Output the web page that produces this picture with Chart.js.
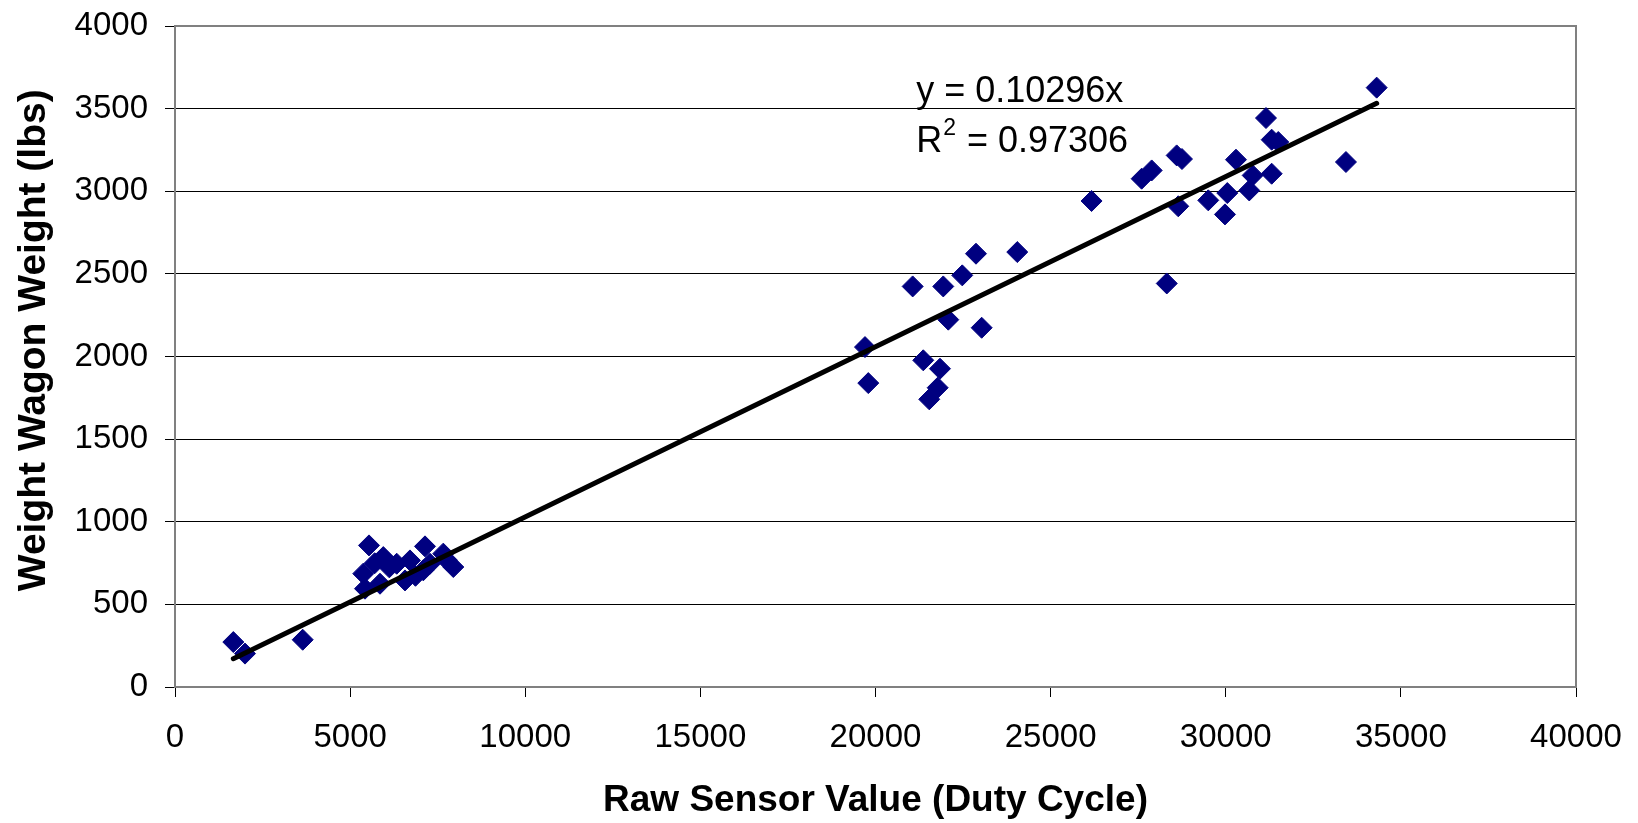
<!DOCTYPE html>
<html>
<head>
<meta charset="utf-8">
<script src="https://cdn.jsdelivr.net/npm/chart.js@4.4.0/dist/chart.umd.min.js"></script>
<style>
  html, body { margin: 0; padding: 0; background: #fff; }
  #wrap { width: 1638px; height: 823px; position: relative; }
</style>
</head>
<body>
<div id="wrap"><canvas id="myChart"></canvas></div>
<script>
// raw sensor reading (duty cycle) vs weighed wagon weight (lbs)
let sensorValues = [
  1665, 1999, 3646,
  5539, 7138, 7660, 7946, 5947, 5376, 5425, 6330, 6709, 6567, 7089, 7280, 5853,
  5701, 6119, 6866, 7761,
  21061, 21935, 22477, 22869, 24048, 19700, 22078, 23031, 21364, 21841, 19794, 21775, 21535,
  26169, 27599, 27885, 28599, 28750, 28644, 28316, 29501, 29978, 30044, 30292, 30671, 30769,
  31149, 31311, 31499, 31311, 33432, 34309
]
let wagonWeights = [
  272, 202, 286,
  857, 851, 807, 726, 786, 686, 595, 746, 766, 645, 706, 746, 625,
  749, 724, 673, 768,
  2424, 2424, 2491, 2622, 2632, 2057, 2223, 2174, 1977, 1926, 1839, 1811, 1741,
  2941, 3076, 3126, 3217, 3195, 2909, 2442, 2945, 2860, 2989, 3191, 3005, 3096,
  3443, 3312, 3298, 3106, 3177, 3627
]
// trendline end points (y = 0.10296x)
let trendX = [1665, 34309]
let trendY = [171, 3532]
let xTicks = { min: 0, max: 40000, step: 5000 }
let yTicks = { min: 0, max: 4000, step: 500 }
let eqText = ['y = 0.10296x', '0.97306']
let eqPos = { x: 21160, y1: 3600, y2: 3300 }

const fontName = "'Liberation Sans', Arial, sans-serif"

let points = sensorValues.map((v, i) => ({ x: v, y: wagonWeights[i] }))
let trend = trendX.map((v, i) => ({ x: v, y: trendY[i] }))

const plotFrame = {
  id: 'plotFrame',
  beforeDatasetsDraw(chart) {
    const { ctx, chartArea } = chart
    ctx.save()
    ctx.strokeStyle = '#808080'
    ctx.lineWidth = 2
    ctx.strokeRect(chartArea.left, chartArea.top, chartArea.right - chartArea.left, chartArea.bottom - chartArea.top)
    ctx.restore()
  }
}

const equation = {
  id: 'equation',
  afterDatasetsDraw(chart) {
    const { ctx, scales } = chart
    let x = scales.x.getPixelForValue(eqPos.x)
    let y1 = scales.y.getPixelForValue(eqPos.y1)
    let y2 = scales.y.getPixelForValue(eqPos.y2)
    ctx.save()
    ctx.fillStyle = '#000'
    ctx.textBaseline = 'middle'
    ctx.textAlign = 'left'
    ctx.font = '36px ' + fontName
    ctx.fillText(eqText[0], x, y1)
    ctx.fillText('R', x, y2)
    let rw = ctx.measureText('R').width
    ctx.font = '23px ' + fontName
    ctx.fillText('2', x + rw + 1, y2 - 13)
    let sw = ctx.measureText('2').width
    ctx.font = '36px ' + fontName
    ctx.fillText(' = ' + eqText[1], x + rw + sw + 2, y2)
    ctx.restore()
  }
}

let graphObject = new Chart(document.querySelector('#myChart'), {
  type: 'scatter',
  data: {
    datasets: [
      {
        type: 'line',
        label: 'Linear fit',
        data: trend,
        borderColor: '#000',
        borderWidth: 5,
        borderCapStyle: 'round',
        pointRadius: 0,
        fill: false,
        order: 0
      },
      {
        label: 'Weight',
        data: points,
        pointStyle: 'rectRot',
        pointRadius: 10.5,
        backgroundColor: '#000080',
        borderColor: '#000080',
        borderWidth: 1,
        order: 1
      }
    ]
  },
  options: {
    responsive: true,
    maintainAspectRatio: false,
    animation: false,
    layout: { padding: { top: 26, right: 62, left: 0, bottom: 0 } },
    plugins: {
      legend: { display: false },
      tooltip: { enabled: false }
    },
    scales: {
      x: {
        type: 'linear',
        min: xTicks.min,
        max: xTicks.max,
        afterFit(scale) { scale.height = 136 },
        ticks: {
          stepSize: xTicks.step,
          color: '#000',
          padding: 16,
          font: { family: fontName, size: 33, lineHeight: 1.5 },
          callback: v => String(v)
        },
        grid: { drawOnChartArea: false, drawTicks: true, tickLength: 10, color: '#000' },
        border: { color: '#808080', width: 2 },
        title: {
          display: true,
          text: 'Raw Sensor Value (Duty Cycle)',
          color: '#000',
          padding: { top: 0, bottom: 0 },
          font: { family: fontName, size: 37, weight: 'bold' }
        }
      },
      y: {
        min: yTicks.min,
        max: yTicks.max,
        afterFit(scale) { scale.width = 175 },
        ticks: {
          stepSize: yTicks.step,
          color: '#000',
          padding: 17,
          font: { family: fontName, size: 33, lineHeight: 0.5 },
          callback: v => String(v)
        },
        grid: { color: '#000', lineWidth: 1, tickLength: 10 },
        border: { color: '#808080', width: 2 },
        title: {
          display: true,
          text: '   Weight Wagon Weight (lbs)',
          color: '#000',
          padding: { top: 11, bottom: 0 },
          font: { family: fontName, size: 39, weight: 'bold' }
        }
      }
    }
  },
  plugins: [plotFrame, equation]
})
</script>
</body>
</html>
